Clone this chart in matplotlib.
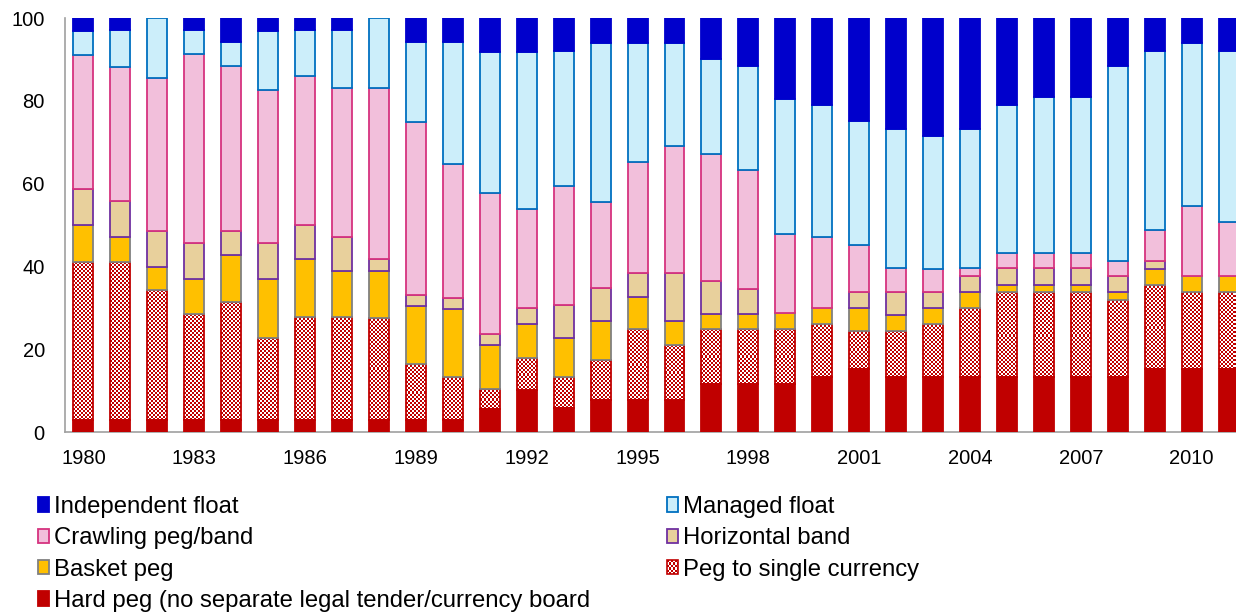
import numpy as np
import matplotlib
matplotlib.use("Agg")
import matplotlib.pyplot as plt
from matplotlib.patches import Rectangle, Patch
from matplotlib.legend_handler import HandlerBase

plt.rcParams['font.family'] = ['Liberation Sans', 'DejaVu Sans']

# Anteile der Wechselkursregime (%), 1980-2011
years = np.arange(1980, 2012)
hard_peg = [3.0, 3.0, 3.0, 3.0, 3.0, 3.0, 2.8, 2.8, 2.8, 2.8, 2.8, 5.5, 10.1, 5.9, 7.8, 7.8,
            7.8, 11.7, 11.7, 11.7, 13.3, 15.1, 13.3, 13.3, 13.3, 13.3, 13.3, 13.3, 13.3, 15.1, 15.1, 15.1]
single_peg = [38.0, 38.0, 31.3, 25.6, 28.4, 19.8, 24.9, 24.9, 24.8, 13.7, 10.5, 5.0, 7.8, 7.5, 9.5, 17.1,
              13.1, 13.2, 13.2, 13.2, 12.9, 9.3, 11.1, 12.9, 16.7, 20.5, 20.5, 20.5, 18.7, 20.5, 18.7, 18.7]
basket_peg = [8.9, 6.0, 5.6, 8.4, 11.3, 14.2, 14.0, 11.1, 11.2, 13.9, 16.3, 10.4, 8.1, 9.4, 9.4, 7.8,
              5.8, 3.7, 3.7, 3.9, 3.8, 5.6, 3.8, 3.8, 3.8, 1.8, 1.8, 1.8, 1.8, 3.8, 3.9, 3.9]
horiz_band = [8.8, 8.8, 8.6, 8.6, 5.8, 8.6, 8.2, 8.2, 2.9, 2.8, 2.7, 2.8, 3.9, 7.9, 8.0, 5.6,
              11.6, 7.8, 6.0, 0.0, 0.0, 3.8, 5.6, 3.8, 3.9, 3.9, 3.9, 3.9, 3.9, 2.0, 0.0, 0.0]
crawling = [32.3, 32.3, 37.1, 45.7, 39.8, 37.1, 36.2, 36.2, 41.5, 41.6, 32.5, 34.1, 24.0, 28.8, 20.9, 27.0,
            30.9, 30.8, 28.7, 19.1, 17.0, 11.3, 5.7, 5.6, 1.9, 3.8, 3.8, 3.8, 3.7, 7.5, 16.8, 13.1]
managed = [5.9, 8.9, 14.4, 5.7, 5.8, 14.2, 10.9, 13.8, 16.8, 19.4, 29.5, 34.1, 37.8, 32.6, 38.4, 28.7,
           24.8, 22.9, 25.0, 32.5, 31.9, 30.1, 33.8, 32.0, 33.7, 35.6, 37.6, 37.6, 46.9, 43.2, 39.5, 41.3]
independent = [3.1, 3.0, 0.0, 3.0, 5.9, 3.1, 3.0, 3.0, 0.0, 5.8, 5.7, 8.1, 8.3, 7.9, 6.0, 6.0,
               6.0, 9.9, 11.7, 19.6, 21.1, 24.8, 26.7, 28.6, 26.7, 21.1, 19.1, 19.1, 11.7, 7.9, 6.0, 7.9]

labels = ["Hard peg (no separate legal tender/currency board", "Peg to single currency",
          "Basket peg", "Horizontal band", "Crawling peg/band", "Managed float", "Independent float"]
faces = ["#C00000", "none", "#FFC000", "#E8D09C", "#F2BFDB", "#CCEEFA", "#0000CC"]
edges = ["#C00000", "#C00000", "#808080", "#7030A0", "#D6337F", "#0070C0", "#0000CC"]
series = [hard_peg, single_peg, basket_peg, horiz_band, crawling, managed, independent]

width = 0.54
checker_red = "#C00000"

fig = plt.figure(figsize=(12.36, 6.12), dpi=100)
ax = fig.add_axes([65 / 1236, 1 - 432 / 612, 1 - 65 / 1236, (432 - 18) / 612])

bottom = np.zeros(len(years))
handles = {}
for lab, vals, fc, ec in zip(labels, series, faces, edges):
    vals = np.array(vals)
    lw = np.where(vals > 0, 1.3, 0)
    bars = ax.bar(years, vals, width, bottom=bottom, facecolor=fc, edgecolor=ec,
                  linewidth=lw, zorder=3)
    if lab == "Peg to single currency":
        # Schachbrettmuster in die Balken legen
        for b in bars:
            x0, y0 = b.get_x(), b.get_y()
            h = b.get_height()
            ny = max(int(round(h * 4.14 / 2)), 1)
            ck = (np.indices((ny, 10)).sum(axis=0) % 2)
            ax.imshow(ck, cmap=matplotlib.colors.ListedColormap(["white", checker_red]),
                      extent=(x0, x0 + width, y0, y0 + h), aspect='auto',
                      interpolation='nearest', zorder=2)
    handles[lab] = Patch(facecolor=fc, edgecolor=ec, linewidth=1.3)
    bottom += vals

ax.set_xlim(1979.5, 2011.2)
ax.set_ylim(0, 100)
ax.set_aspect('auto')
ax.set_xticks(np.arange(1980, 2012, 3))
ax.set_yticks(np.arange(0, 101, 20))
ax.tick_params(axis='both', length=0, labelsize=14.5)
ax.tick_params(axis='y', pad=14.5)
ax.tick_params(axis='x', pad=12.5)
for s in ["top", "right"]:
    ax.spines[s].set_visible(False)
for s in ["left", "bottom"]:
    ax.spines[s].set_color("#A0A0A0")
    ax.spines[s].set_linewidth(1.2)


class CheckerHandler(HandlerBase):
    def create_artists(self, legend, orig_handle, xdescent, ydescent, width, height, fontsize, trans):
        arts = [Rectangle((-xdescent, -ydescent), width, height, facecolor="white",
                          edgecolor=checker_red, lw=1.2, transform=trans)]
        n = 6
        cw, ch = width / n, height / n
        for i in range(n):
            for j in range(n):
                if (i + j) % 2:
                    arts.append(Rectangle((-xdescent + i * cw, -ydescent + j * ch), cw, ch,
                                          facecolor=checker_red, lw=0, transform=trans))
        return arts


handles["Peg to single currency"] = Patch(facecolor="white", edgecolor=checker_red)

col1 = ["Independent float", "Crawling peg/band", "Basket peg",
        "Hard peg (no separate legal tender/currency board"]
col2 = ["Managed float", "Horizontal band", "Peg to single currency"]

leg_kw = dict(frameon=False, fontsize=17.2, handlelength=0.48, handleheight=0.55,
              handletextpad=0.2, labelspacing=0.39, borderpad=0, borderaxespad=0,
              loc="upper left",
              handler_map={handles["Peg to single currency"]: CheckerHandler()})
fig.legend([handles[l] for l in col1], col1, bbox_to_anchor=(38 / 1236, 1 - 496 / 612), **leg_kw)
fig.legend([handles[l] for l in col2], col2, bbox_to_anchor=(667 / 1236, 1 - 496 / 612), **leg_kw)

fig.savefig("out.png", dpi=100)
